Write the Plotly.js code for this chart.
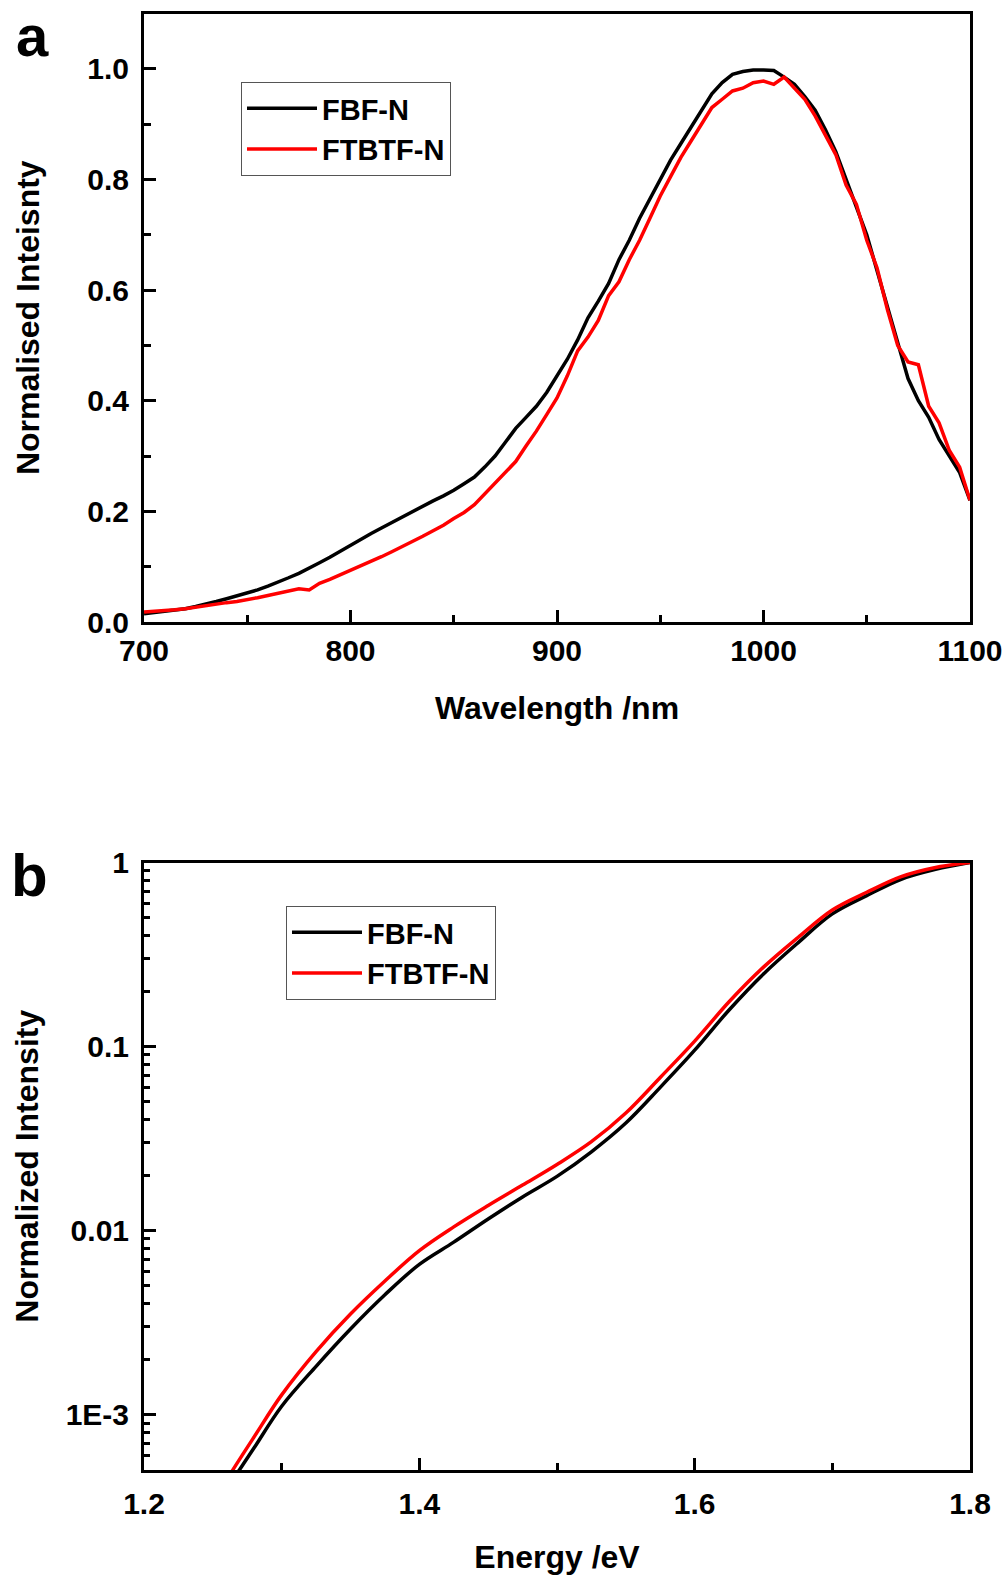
<!DOCTYPE html>
<html>
<head>
<meta charset="utf-8">
<script src="https://cdn.plot.ly/plotly-3.0.1.min.js"></script>
<style>html,body{margin:0;padding:0;background:#fff;}#chart{width:1008px;height:1575px;}</style>
</head>
<body>
<div id="chart"></div>
<script>
// ---------- Panel a : PL spectra ----------
const wavelength = [700,705,710,715,720,725,730,735,740,745,750,755,760,765,770,775,780,785,790,795,
  800,805,810,815,820,825,830,835,840,845,850,855,860,865,870,875,880,885,890,895,
  900,905,910,915,920,925,930,935,940,945,950,955,960,965,970,975,980,985,990,995,
  1000,1005,1010,1015,1020,1025,1030,1035,1040,1045,1050,1055,1060,1065,1070,1075,1080,1085,1090,1095,1100];
const fbfN_pl = [0.015,0.017,0.019,0.021,0.024,0.028,0.032,0.037,0.042,0.047,0.052,0.058,0.065,0.072,0.080,0.088,0.097,0.107,0.117,0.128,
  0.139,0.149,0.160,0.170,0.180,0.190,0.200,0.209,0.219,0.228,0.238,0.250,0.262,0.280,0.300,0.325,0.350,0.370,0.390,0.415,
  0.446,0.475,0.510,0.550,0.580,0.612,0.655,0.690,0.730,0.765,0.800,0.835,0.865,0.895,0.925,0.955,0.975,0.990,0.995,0.998,
  0.998,0.997,0.985,0.972,0.950,0.925,0.890,0.850,0.800,0.750,0.700,0.635,0.570,0.510,0.440,0.400,0.370,0.330,0.300,0.270,0.220];
const ftbtfN_pl = [0.018,0.019,0.020,0.022,0.024,0.027,0.029,0.032,0.035,0.037,0.040,0.044,0.048,0.052,0.056,0.060,0.058,0.070,0.077,0.085,
  0.093,0.101,0.110,0.118,0.127,0.136,0.145,0.155,0.165,0.175,0.187,0.198,0.212,0.232,0.252,0.270,0.290,0.318,0.345,0.375,
  0.405,0.445,0.490,0.515,0.545,0.590,0.615,0.655,0.690,0.730,0.770,0.805,0.840,0.870,0.900,0.930,0.945,0.960,0.965,0.975,
  0.978,0.972,0.985,0.965,0.945,0.915,0.880,0.845,0.790,0.755,0.690,0.640,0.565,0.500,0.470,0.465,0.390,0.360,0.310,0.280,0.220];

// ---------- Panel b : normalized intensity vs energy ----------
const energyFBF = [1.265,1.27,1.28,1.30,1.325,1.35,1.375,1.40,1.425,1.45,1.475,1.50,1.525,1.55,1.575,1.60,1.625,1.65,1.675,1.70,1.725,1.75,1.775,1.80];
const fbfN_int = [4.5e-4,5.1e-4,6.6e-4,1.11e-3,1.83e-3,2.92e-3,4.48e-3,6.55e-3,8.65e-3,0.01156,0.01524,0.0197,0.0268,0.0384,0.060,0.0955,0.158,0.248,0.366,0.526,0.661,0.811,0.918,1.0];
const energyFTBTF = [1.26,1.265,1.28,1.30,1.325,1.35,1.375,1.40,1.425,1.45,1.475,1.50,1.525,1.55,1.575,1.60,1.625,1.65,1.675,1.70,1.725,1.75,1.775,1.80];
const ftbtfN_int = [4.4e-4,5.07e-4,7.57e-4,1.28e-3,2.20e-3,3.52e-3,5.32e-3,7.78e-3,0.01047,0.01368,0.01766,0.02286,0.0304,0.0435,0.0679,0.107,0.175,0.27,0.391,0.552,0.689,0.838,0.94,1.0];

const seriesNames = ['FBF-N','FTBTF-N'];
const seriesColors = ['#000000','#ff0000'];
const logTickVals = [1e-3,0.01,0.1,1];
const logTickText = ['1E-3','0.01','0.1','1'];
const logMinorVals = [6e-4,7e-4,8e-4,9e-4,2e-3,3e-3,4e-3,5e-3,6e-3,7e-3,8e-3,9e-3,0.02,0.03,0.04,0.05,0.06,0.07,0.08,0.09,0.2,0.3,0.4,0.5,0.6,0.7,0.8,0.9];

const FONT = 'Liberation Sans, Arial, Helvetica, sans-serif';
const W = 1008, H = 1575;

const traces = [
  {x: wavelength, y: fbfN_pl, name: seriesNames[0], type:'scatter', mode:'lines', line:{color:seriesColors[0], width:3.5}, xaxis:'x', yaxis:'y', legend:'legend'},
  {x: wavelength, y: ftbtfN_pl, name: seriesNames[1], type:'scatter', mode:'lines', line:{color:seriesColors[1], width:3.5}, xaxis:'x', yaxis:'y', legend:'legend'},
  {x: energyFBF, y: fbfN_int, name: seriesNames[0], type:'scatter', mode:'lines', line:{color:seriesColors[0], width:3.5, shape:'spline'}, xaxis:'x2', yaxis:'y2', legend:'legend2'},
  {x: energyFTBTF, y: ftbtfN_int, name: seriesNames[1], type:'scatter', mode:'lines', line:{color:seriesColors[1], width:3.5, shape:'spline'}, xaxis:'x2', yaxis:'y2', legend:'legend2'}
];

function axisBase(extra){
  return Object.assign({
    showline:true, linewidth:3, linecolor:'#000', mirror:true,
    ticks:'inside', ticklen:12, tickwidth:3, tickcolor:'#000',
    showgrid:false, zeroline:false,
    tickfont:{family:FONT, size:30, color:'#000', weight:'bold'},
    minor:{ticks:'inside', ticklen:7, tickwidth:3, tickcolor:'#000', showgrid:false}
  }, extra);
}
const titleFont = {family:FONT, size:32, color:'#000', weight:'bold'};
const xDom = [144/W, 970/W];

const layout = {
  width:W, height:H, autosize:false,
  margin:{l:0,r:0,t:0,b:0},
  paper_bgcolor:'#fff', plot_bgcolor:'#fff',
  showlegend:true,
  xaxis: axisBase({domain:xDom, anchor:'y', range:[700,1100], tick0:700, dtick:100,
    minor:{ticks:'inside', ticklen:7, tickwidth:3, tickcolor:'#000', showgrid:false, dtick:50, tick0:700},
    ticklabelstandoff:0,
    title:{text:'Wavelength /nm', font:titleFont, standoff:31}}),
  yaxis: axisBase({domain:[1-622/H, 1-13.5/H], anchor:'x', range:[0,1.1], tick0:0, dtick:0.2, tickformat:'.1f',
    minor:{ticks:'inside', ticklen:7, tickwidth:3, tickcolor:'#000', showgrid:false, dtick:0.1, tick0:0},
    ticklabelstandoff:6,
    title:{text:'Normalised Inteisnty', font:titleFont, standoff:39}}),
  xaxis2: axisBase({domain:xDom, anchor:'y2', range:[1.2,1.8], tick0:1.2, dtick:0.2, tickformat:'.1f',
    minor:{ticks:'inside', ticklen:7, tickwidth:3, tickcolor:'#000', showgrid:false, dtick:0.1, tick0:1.2},
    ticklabelstandoff:5,
    title:{text:'Energy /eV', font:titleFont, standoff:29}}),
  yaxis2: axisBase({domain:[1-1470/H, 1-862.5/H], anchor:'x2', type:'log', range:[Math.log10(5e-4), 0],
    tickmode:'array', tickvals:logTickVals, ticktext:logTickText,
    minor:{ticks:'inside', ticklen:6, tickwidth:3, tickcolor:'#000', showgrid:false, tickmode:'array', tickvals:logMinorVals},
    ticklabelstandoff:6,
    title:{text:'Normalized Intensity', font:titleFont, standoff:18}}),
  legend:{x:241/W, y:1-82/H, xanchor:'left', yanchor:'top', bgcolor:'rgba(255,255,255,0)',
    bordercolor:'#555', borderwidth:1, itemwidth:70, tracegroupgap:0,
    font:{family:FONT, size:29, color:'#000', weight:'bold'}},
  legend2:{x:286/W, y:1-906/H, xanchor:'left', yanchor:'top', bgcolor:'rgba(255,255,255,0)',
    bordercolor:'#555', borderwidth:1, itemwidth:70, tracegroupgap:0,
    font:{family:FONT, size:29, color:'#000', weight:'bold'}},
  annotations:[
    {text:'a', xref:'paper', yref:'paper', x:14/W, y:1-1/H, xanchor:'left', yanchor:'top', showarrow:false,
      font:{family:FONT, size:58, color:'#000', weight:'bold'}},
    {text:'b', xref:'paper', yref:'paper', x:9/W, y:1-840/H, xanchor:'left', yanchor:'top', showarrow:false,
      font:{family:FONT, size:60, color:'#000', weight:'bold'}}
  ]
};

Plotly.newPlot('chart', traces, layout, {displayModeBar:false, staticPlot:true});
</script>
</body>
</html>
